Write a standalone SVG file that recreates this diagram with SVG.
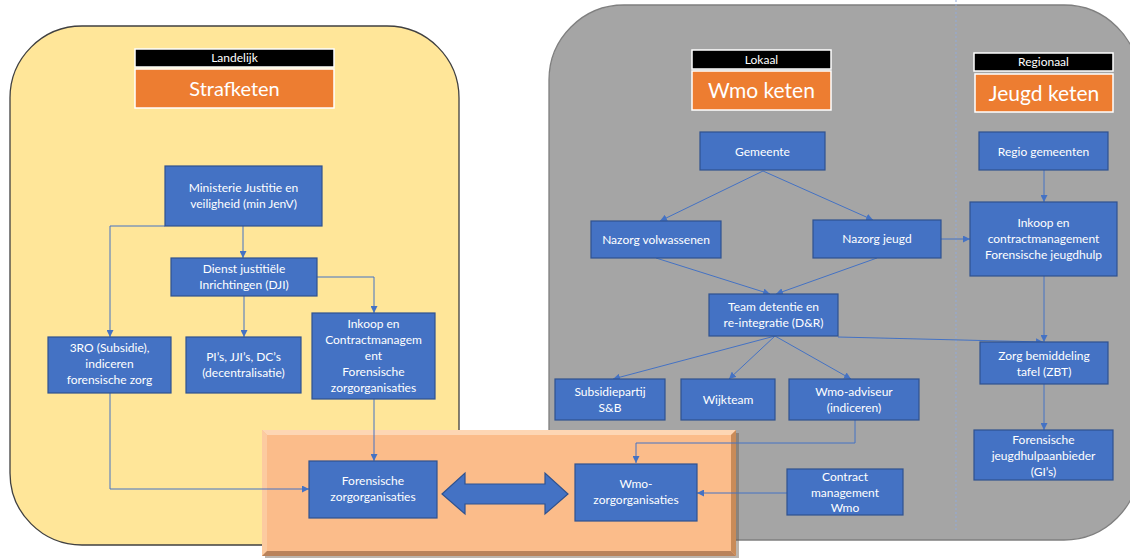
<svg xmlns="http://www.w3.org/2000/svg" width="1130" height="558" viewBox="0 0 1130 558">
<defs>
<style>
.node rect{fill:#4472C4;stroke:#2F528F;stroke-width:1.2}
.node text{fill:#FFFFFF;font-family:Lato,"Liberation Sans",sans-serif;font-size:12px;text-anchor:middle}
.hdr rect.b{fill:#000000;stroke:#FFFFFF;stroke-width:1.5}
.hdr rect.o{fill:#ED7D31;stroke:#FFFFFF;stroke-width:1.5}
.hdr text{fill:#FFFFFF;font-family:Lato,"Liberation Sans",sans-serif;text-anchor:middle}
.con{fill:none;stroke:#4472C4;stroke-width:1;marker-end:url(#ah)}
</style>
<marker id="ah" markerUnits="userSpaceOnUse" markerWidth="7" markerHeight="7" refX="7" refY="3.5" orient="auto">
<path d="M0,0 L7,3.5 L0,7 z" fill="#4472C4"/>
</marker>
</defs>
<rect width="1130" height="558" fill="#FFFFFF"/>

<g id="panel-strafketen">
<rect x="10" y="26" width="449" height="519" rx="72" ry="72" fill="#FFE699" stroke="#404040" stroke-width="1.3"/>
</g>
<g id="panel-wmo">
<rect x="549" y="5" width="590" height="535" rx="75" ry="75" fill="#A5A5A5" stroke="#7F7F7F" stroke-width="1.3"/>
<line x1="956" y1="0" x2="956" y2="532" stroke="#8FAADC" stroke-width="1" stroke-dasharray="2 2"/>
</g>

<g id="hdr-landelijk" class="hdr">
<rect class="b" x="135" y="49" width="199" height="18"/>
<text x="234.5" y="62" font-size="12">Landelijk</text>
<rect class="o" x="135" y="69" width="199" height="39"/>
<text x="234.5" y="96" font-size="20">Strafketen</text>
</g>
<g id="hdr-lokaal" class="hdr">
<rect class="b" x="692" y="50" width="139" height="19"/>
<text x="761.5" y="64" font-size="12">Lokaal</text>
<rect class="o" x="692" y="71" width="139" height="39"/>
<text x="761.5" y="98" font-size="21">Wmo keten</text>
</g>
<g id="hdr-regionaal" class="hdr">
<rect class="b" x="974" y="53" width="139" height="18"/>
<text x="1043.5" y="66" font-size="12">Regionaal</text>
<rect class="o" x="975" y="74" width="138" height="38"/>
<text x="1044" y="101" font-size="21">Jeugd keten</text>
</g>

<g id="zone-zorgorganisaties">
<rect x="265" y="433" width="474" height="126" fill="#6B5A4C" opacity="0.45"/>
<rect x="262" y="430" width="474" height="126" fill="#FBBC8A"/>
<path d="M262,430 L736,430 L731,435 L267,435 Z" fill="#FDD6B4"/>
<path d="M262,430 L267,435 L267,551 L262,556 Z" fill="#FCCBA0"/>
<path d="M736,430 L731,435 L731,551 L736,556 Z" fill="#C98B58"/>
<path d="M262,556 L267,551 L731,551 L736,556 Z" fill="#B9825A"/>
<polygon id="double-arrow" points="442,494 465,473 465,484 545,484 545,473 568,494 545,514 545,504 465,504 465,514" fill="#4472C4" stroke="#2F528F" stroke-width="1.2"/>
</g>

<g id="connectors">
<path class="con" d="M243,226 L243,258"/>
<path class="con" d="M165,226 L110,226 L110,337"/>
<path class="con" d="M244,296 L244,337"/>
<path class="con" d="M317,277 L374,277 L374,313"/>
<path class="con" d="M110,392 L110,489 L309,489"/>
<path class="con" d="M374,399 L374,461"/>
<path class="con" d="M763,171 L660,221"/>
<path class="con" d="M763,171 L873,220"/>
<path class="con" d="M656,258 L770,294"/>
<path class="con" d="M877,258 L776,294"/>
<path class="con" d="M941,239 L970,239"/>
<path class="con" d="M1044,170 L1044,202"/>
<path class="con" d="M775,336 L613,379"/>
<path class="con" d="M775,336 L729,379"/>
<path class="con" d="M775,336 L851,379"/>
<path class="con" d="M838,337 L1043,342"/>
<path class="con" d="M1044,276 L1044,342"/>
<path class="con" d="M1044,384 L1044,430"/>
<path class="con" d="M855,420 L855,443 L636,443 L636,463"/>
<path class="con" d="M787,493 L697,493"/>
</g>

<g id="node-ministerie" class="node"><rect x="165" y="166" width="157" height="60"/><text x="243.5" y="192">Ministerie Justitie en</text><text x="243.5" y="208">veiligheid (min JenV)</text></g>
<g id="node-dji" class="node"><rect x="171" y="258" width="146" height="38"/><text x="244" y="273">Dienst justitiële</text><text x="244" y="289">Inrichtingen (DJI)</text></g>
<g id="node-3ro" class="node"><rect x="48" y="337" width="123" height="56"/><text x="109.5" y="352">3RO (Subsidie),</text><text x="109.5" y="368">indiceren</text><text x="109.5" y="384">forensische zorg</text></g>
<g id="node-pi" class="node"><rect x="186" y="337" width="115" height="56"/><text x="243.5" y="361">PI’s, JJI’s, DC’s</text><text x="243.5" y="377">(decentralisatie)</text></g>
<g id="node-inkoop-fz" class="node"><rect x="312" y="313" width="123" height="86"/><text x="373.5" y="328">Inkoop en</text><text x="373.5" y="344">Contractmanagem</text><text x="373.5" y="360">ent</text><text x="373.5" y="376">Forensische</text><text x="373.5" y="392">zorgorganisaties</text></g>
<g id="node-forensische-zo" class="node"><rect x="309" y="461" width="128" height="57"/><text x="373" y="485">Forensische</text><text x="373" y="501">zorgorganisaties</text></g>
<g id="node-wmo-zo" class="node"><rect x="575" y="464" width="122" height="57"/><text x="636" y="488">Wmo-</text><text x="636" y="504">zorgorganisaties</text></g>

<g id="node-gemeente" class="node"><rect x="700" y="132" width="125" height="38"/><text x="762.5" y="156">Gemeente</text></g>
<g id="node-nazorg-volw" class="node"><rect x="591" y="221" width="130" height="37"/><text x="656" y="244">Nazorg volwassenen</text></g>
<g id="node-nazorg-jeugd" class="node"><rect x="813" y="220" width="128" height="38"/><text x="877" y="243">Nazorg jeugd</text></g>
<g id="node-team" class="node"><rect x="709" y="294" width="129" height="42"/><text x="773.5" y="311">Team detentie en</text><text x="773.5" y="327">re-integratie (D&amp;R)</text></g>
<g id="node-subsidie" class="node"><rect x="555" y="379" width="110" height="41"/><text x="610" y="396">Subsidiepartij</text><text x="610" y="412">S&amp;B</text></g>
<g id="node-wijkteam" class="node"><rect x="681" y="379" width="94" height="41"/><text x="728" y="404">Wijkteam</text></g>
<g id="node-wmo-adviseur" class="node"><rect x="789" y="379" width="130" height="41"/><text x="854" y="396">Wmo-adviseur</text><text x="854" y="412">(indiceren)</text></g>
<g id="node-contract-wmo" class="node"><rect x="787" y="469" width="116" height="46"/><text x="845" y="481">Contract</text><text x="845" y="497">management</text><text x="845" y="512">Wmo</text></g>

<g id="node-regio" class="node"><rect x="979" y="132" width="129" height="38"/><text x="1043.5" y="156">Regio gemeenten</text></g>
<g id="node-inkoop-jeugd" class="node"><rect x="970" y="202" width="147" height="74"/><text x="1043.5" y="227">Inkoop en</text><text x="1043.5" y="243">contractmanagement</text><text x="1043.5" y="259">Forensische jeugdhulp</text></g>
<g id="node-zbt" class="node"><rect x="980" y="342" width="128" height="42"/><text x="1044" y="360">Zorg bemiddeling</text><text x="1044" y="376">tafel (ZBT)</text></g>
<g id="node-gi" class="node"><rect x="974" y="430" width="139" height="50"/><text x="1043.5" y="444">Forensische</text><text x="1043.5" y="460">jeugdhulpaanbieder</text><text x="1043.5" y="476">(GI’s)</text></g>
</svg>
